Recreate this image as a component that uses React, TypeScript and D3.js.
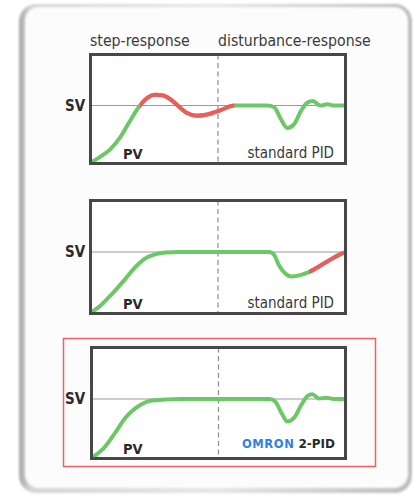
import React from "react";
import * as d3 from "d3";

// column titles above the first panel
const columnTitles = ["step-response", "disturbance-response"];

// time runs 0..100 across each panel, value 1 = SV
const p1Time = [0, 3.2, 7.1, 11.1, 15, 19, 22.1, 25, 28, 30.8, 34, 37.5, 41.5, 45.8, 50.6, 56.5, 62.5, 69.6, 72.3, 74.7, 77.5, 80.2, 83, 85.4, 87.7, 90.5, 93.5, 96, 100];
const p1Value = [0, 0.09, 0.22, 0.43, 0.72, 1, 1.14, 1.19, 1.18, 1.12, 1, 0.87, 0.82, 0.84, 0.91, 1, 1, 1, 0.97, 0.78, 0.6, 0.67, 0.91, 1.05, 1.08, 1.0, 1.02, 1.0, 1];

const p2Time = [0, 3.2, 7.9, 13, 17, 21, 25, 29, 35, 70.4, 72.3, 74.3, 76.7, 79, 82.2, 86.2, 92.5, 98.8, 100];
const p2Value = [0, 0.1, 0.3, 0.54, 0.74, 0.89, 0.96, 0.99, 1, 1, 0.95, 0.77, 0.64, 0.59, 0.61, 0.67, 0.82, 0.97, 0.99];

const p3Time = [0, 4, 9, 13, 15.8, 19, 22.9, 28.9, 34.8, 70.4, 72.7, 75.1, 77.5, 80.2, 83, 85.4, 87.4, 90, 93, 96, 100];
const p3Value = [0, 0.14, 0.43, 0.68, 0.8, 0.9, 0.97, 0.99, 1, 1, 0.95, 0.76, 0.61, 0.68, 0.9, 1.05, 1.08, 1.01, 1.02, 1, 1];

// stretch of each curve drawn red (time from, time to), null = none
const redStretch: ([number, number] | null)[] = [[19, 56.5], [86.2, 100], null];
const divideAt = 50;
const footLabels = ["standard PID", "standard PID", "2-PID"];

const GREEN = "#6cc867";
const RED = "#f05a5a";

const panels = [
  { x: 90.5, y: 54.5, w: 255, h: 109, sv: 105.5, time: p1Time, value: p1Value },
  { x: 90.5, y: 200.5, w: 255, h: 113, sv: 252, time: p2Time, value: p2Value },
  { x: 91.5, y: 347.5, w: 254, h: 111, sv: 399, time: p3Time, value: p3Value },
];

function Panel({ i }: { i: number }) {
  const p = panels[i];
  const x = d3.scaleLinear().domain([0, 100]).range([p.x + 1.5, p.x + p.w - 1.5]);
  const y = d3.scaleLinear().domain([0, 1]).range([p.y + p.h - 1.5, p.sv]);
  const pts: [number, number][] = p.time.map((t, k) => [t, p.value[k]]);
  const line = d3.line<[number, number]>()
    .x(d => x(d[0]))
    .y(d => y(d[1]))
    .curve(d3.curveMonotoneX);
  const path = line(pts) || "";
  const red = redStretch[i];
  const clipId = "red-clip-" + i;
  const left = p.x + 1.5;
  const right = p.x + p.w - 1.5;
  return (
    <g>
      <rect x={p.x} y={p.y} width={p.w} height={p.h} fill="#fff" />
      <line x1={left} x2={right} y1={y(1)} y2={y(1)} stroke="#9a9a9a" strokeWidth={1} />
      <line x1={x(divideAt)} x2={x(divideAt)} y1={p.y} y2={p.y + p.h} stroke="#8c8c8c" strokeWidth={1.2} strokeDasharray="5,3.5" />
      <clipPath id={"inner-" + i}>
        <rect x={left} y={p.y} width={right - left} height={p.h - 1.5} />
      </clipPath>
      <g clipPath={`url(#inner-${i})`}>
        <path d={path} fill="none" stroke={GREEN} strokeWidth={4} strokeLinecap="round" strokeLinejoin="round" />
        {red && (
          <>
            <clipPath id={clipId}>
              <rect x={x(red[0])} y={p.y} width={x(red[1]) - x(red[0])} height={p.h} />
            </clipPath>
            <path d={path} fill="none" stroke={RED} strokeWidth={4} clipPath={`url(#${clipId})`} />
          </>
        )}
      </g>
      <rect x={p.x} y={p.y} width={p.w} height={p.h} fill="none" stroke="#474747" strokeWidth={3} />
      <text x={65} y={y(1)} dy="0.36em" fontFamily="DejaVu Sans Condensed" fontWeight="bold" fontSize={15} fill="#2a2a2a">SV</text>
      <text x={123} y={p.y + p.h - 5} fontFamily="DejaVu Sans Condensed" fontWeight="bold" fontSize={14.5} fill="#2a2a2a">PV</text>
      {i < 2 ? (
        <text x={right - 10} y={p.y + p.h - 6} textAnchor="end" fontFamily="DejaVu Sans Condensed" fontSize={15} fill="#3a3a3a">{footLabels[i]}</text>
      ) : (
        <text x={right - 9} y={p.y + p.h - 11} textAnchor="end" fontFamily="DejaVu Sans" fontWeight="bold" fontSize={12}>
          <tspan fill="#2f7fe6" fontSize={11.5} letterSpacing={0.6}>OMRON</tspan>
          <tspan fill="#2a2a2a" dx={4}>{footLabels[i]}</tspan>
        </text>
      )}
    </g>
  );
}

export default function App() {
  return (
    <svg width={413} height={496} style={{ position: "absolute", left: 0, top: 0 }}>
      <defs>
        <linearGradient id="rim" x1="0" x2="1" y1="0" y2="0">
          <stop offset="0" stopColor="#a9a9a9" />
          <stop offset="0.03" stopColor="#d6d6d6" />
          <stop offset="0.5" stopColor="#e6e6e6" />
          <stop offset="1" stopColor="#bdbdbd" />
        </linearGradient>
        <filter id="soft" x="-5%" y="-5%" width="110%" height="110%">
          <feGaussianBlur stdDeviation="1.2" />
        </filter>
      </defs>
      <rect width={413} height={496} fill="#fff" />
      <rect x={19} y={4} width={393} height={489} rx={17} fill="url(#rim)" filter="url(#soft)" />
      <rect x={25} y={7} width={383} height={481} rx={14} fill="#fcfcfc" filter="url(#soft)" />
      {columnTitles.map((t, k) => (
        <text key={t} x={k === 0 ? 90 : 218} y={46} fontFamily="DejaVu Sans Condensed" fontSize={15.7} fill="#3a3a3a">{t}</text>
      ))}
      <rect x={63.5} y={338.5} width={312} height={128} fill="none" stroke="#f06060" strokeWidth={1.5} />
      {panels.map((_, i) => <Panel key={i} i={i} />)}
    </svg>
  );
}
